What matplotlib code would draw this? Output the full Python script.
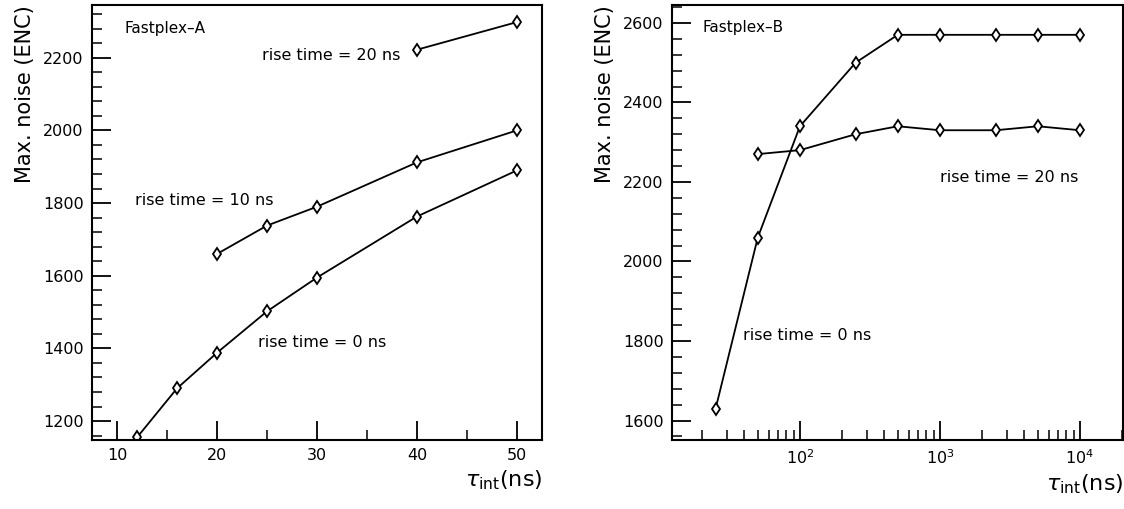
import matplotlib
matplotlib.use('Agg')
import matplotlib.pyplot as plt
from matplotlib.ticker import MultipleLocator, LogLocator, NullFormatter

plt.rcParams['font.family'] = ['DejaVu Sans']
plt.rcParams['mathtext.fontset'] = 'dejavusans'

# Fastplex-A : integration time (ns) vs max noise (ENC)
a_t0 = [12, 16, 20, 25, 30, 40, 50]
a_n0 = [1155, 1290, 1388, 1502, 1595, 1763, 1890]
a_t10 = [20, 25, 30, 40, 50]
a_n10 = [1660, 1738, 1790, 1912, 2000]
a_t20 = [40, 50]
a_n20 = [2222, 2298]

# Fastplex-B
b_t0 = [25, 50, 100, 250, 500, 1000, 2500, 5000, 10000]
b_n0 = [1630, 2060, 2340, 2500, 2570, 2570, 2570, 2570, 2570]
b_t20 = [50, 100, 250, 500, 1000, 2500, 5000, 10000]
b_n20 = [2270, 2280, 2320, 2340, 2330, 2330, 2340, 2330]

W, H = 1124, 509
fig = plt.figure(figsize=(W / 100, H / 100), dpi=100)
ax1 = fig.add_axes([92 / W, 69 / H, 450 / W, 435 / H])
ax2 = fig.add_axes([672 / W, 69 / H, 451 / W, 435 / H])

style = dict(color='black', lw=1.3, marker='d', ms=6.5, mfc='white',
             mec='black', mew=1.3)

ax1.plot(a_t0, a_n0, **style)
ax1.plot(a_t10, a_n10, **style)
ax1.plot(a_t20, a_n20, **style)
ax1.set_xlim(7.5, 52.5)
ax1.set_ylim(1148, 2345)
ax1.xaxis.set_major_locator(MultipleLocator(10))
ax1.xaxis.set_minor_locator(MultipleLocator(5))
ax1.yaxis.set_major_locator(MultipleLocator(200))
ax1.yaxis.set_minor_locator(MultipleLocator(40))
ax1.text(10.8, 2280, 'Fastplex\u2013A', fontsize=11, va='center')
ax1.text(38.3, 2205, 'rise time = 20 ns', fontsize=11.5, va='center', ha='right')
ax1.text(11.8, 1808, 'rise time = 10 ns', fontsize=11.5, va='center')
ax1.text(24.1, 1416, 'rise time = 0 ns', fontsize=11.5, va='center')

ax2.plot(b_t0, b_n0, **style)
ax2.plot(b_t20, b_n20, **style)
ax2.set_xscale('log')
ax2.set_xlim(12.2, 20300)
ax2.set_ylim(1551, 2645)
ax2.xaxis.set_minor_locator(LogLocator(base=10, subs=range(2, 10), numticks=20))
ax2.xaxis.set_minor_formatter(NullFormatter())
ax2.set_xticks([100, 1000, 10000])
ax2.set_xticklabels([r'$10^2$', r'$10^3$', r'$10^4$'])
ax2.yaxis.set_major_locator(MultipleLocator(200))
ax2.yaxis.set_minor_locator(MultipleLocator(40))
ax2.text(20.3, 2588, 'Fastplex\u2013B', fontsize=11, va='center')
ax2.text(1000, 2211, 'rise time = 20 ns', fontsize=11.5, va='center')
ax2.text(39, 1813, 'rise time = 0 ns', fontsize=11.5, va='center')

for ax in (ax1, ax2):
    for sp in ax.spines.values():
        sp.set_linewidth(1.5)
    ax.tick_params(which='major', direction='in', length=14, width=1.3,
                   labelsize=11.5, pad=6)
    ax.tick_params(which='minor', direction='in', length=7, width=1.1)
    ax.set_ylabel('Max. noise (ENC)', fontsize=15, loc='top', labelpad=6)
    ax.set_xlabel(r'$\tau_{\rm int}$(ns)', fontsize=16, loc='right', labelpad=4)

fig.savefig('out.png', dpi=100)
